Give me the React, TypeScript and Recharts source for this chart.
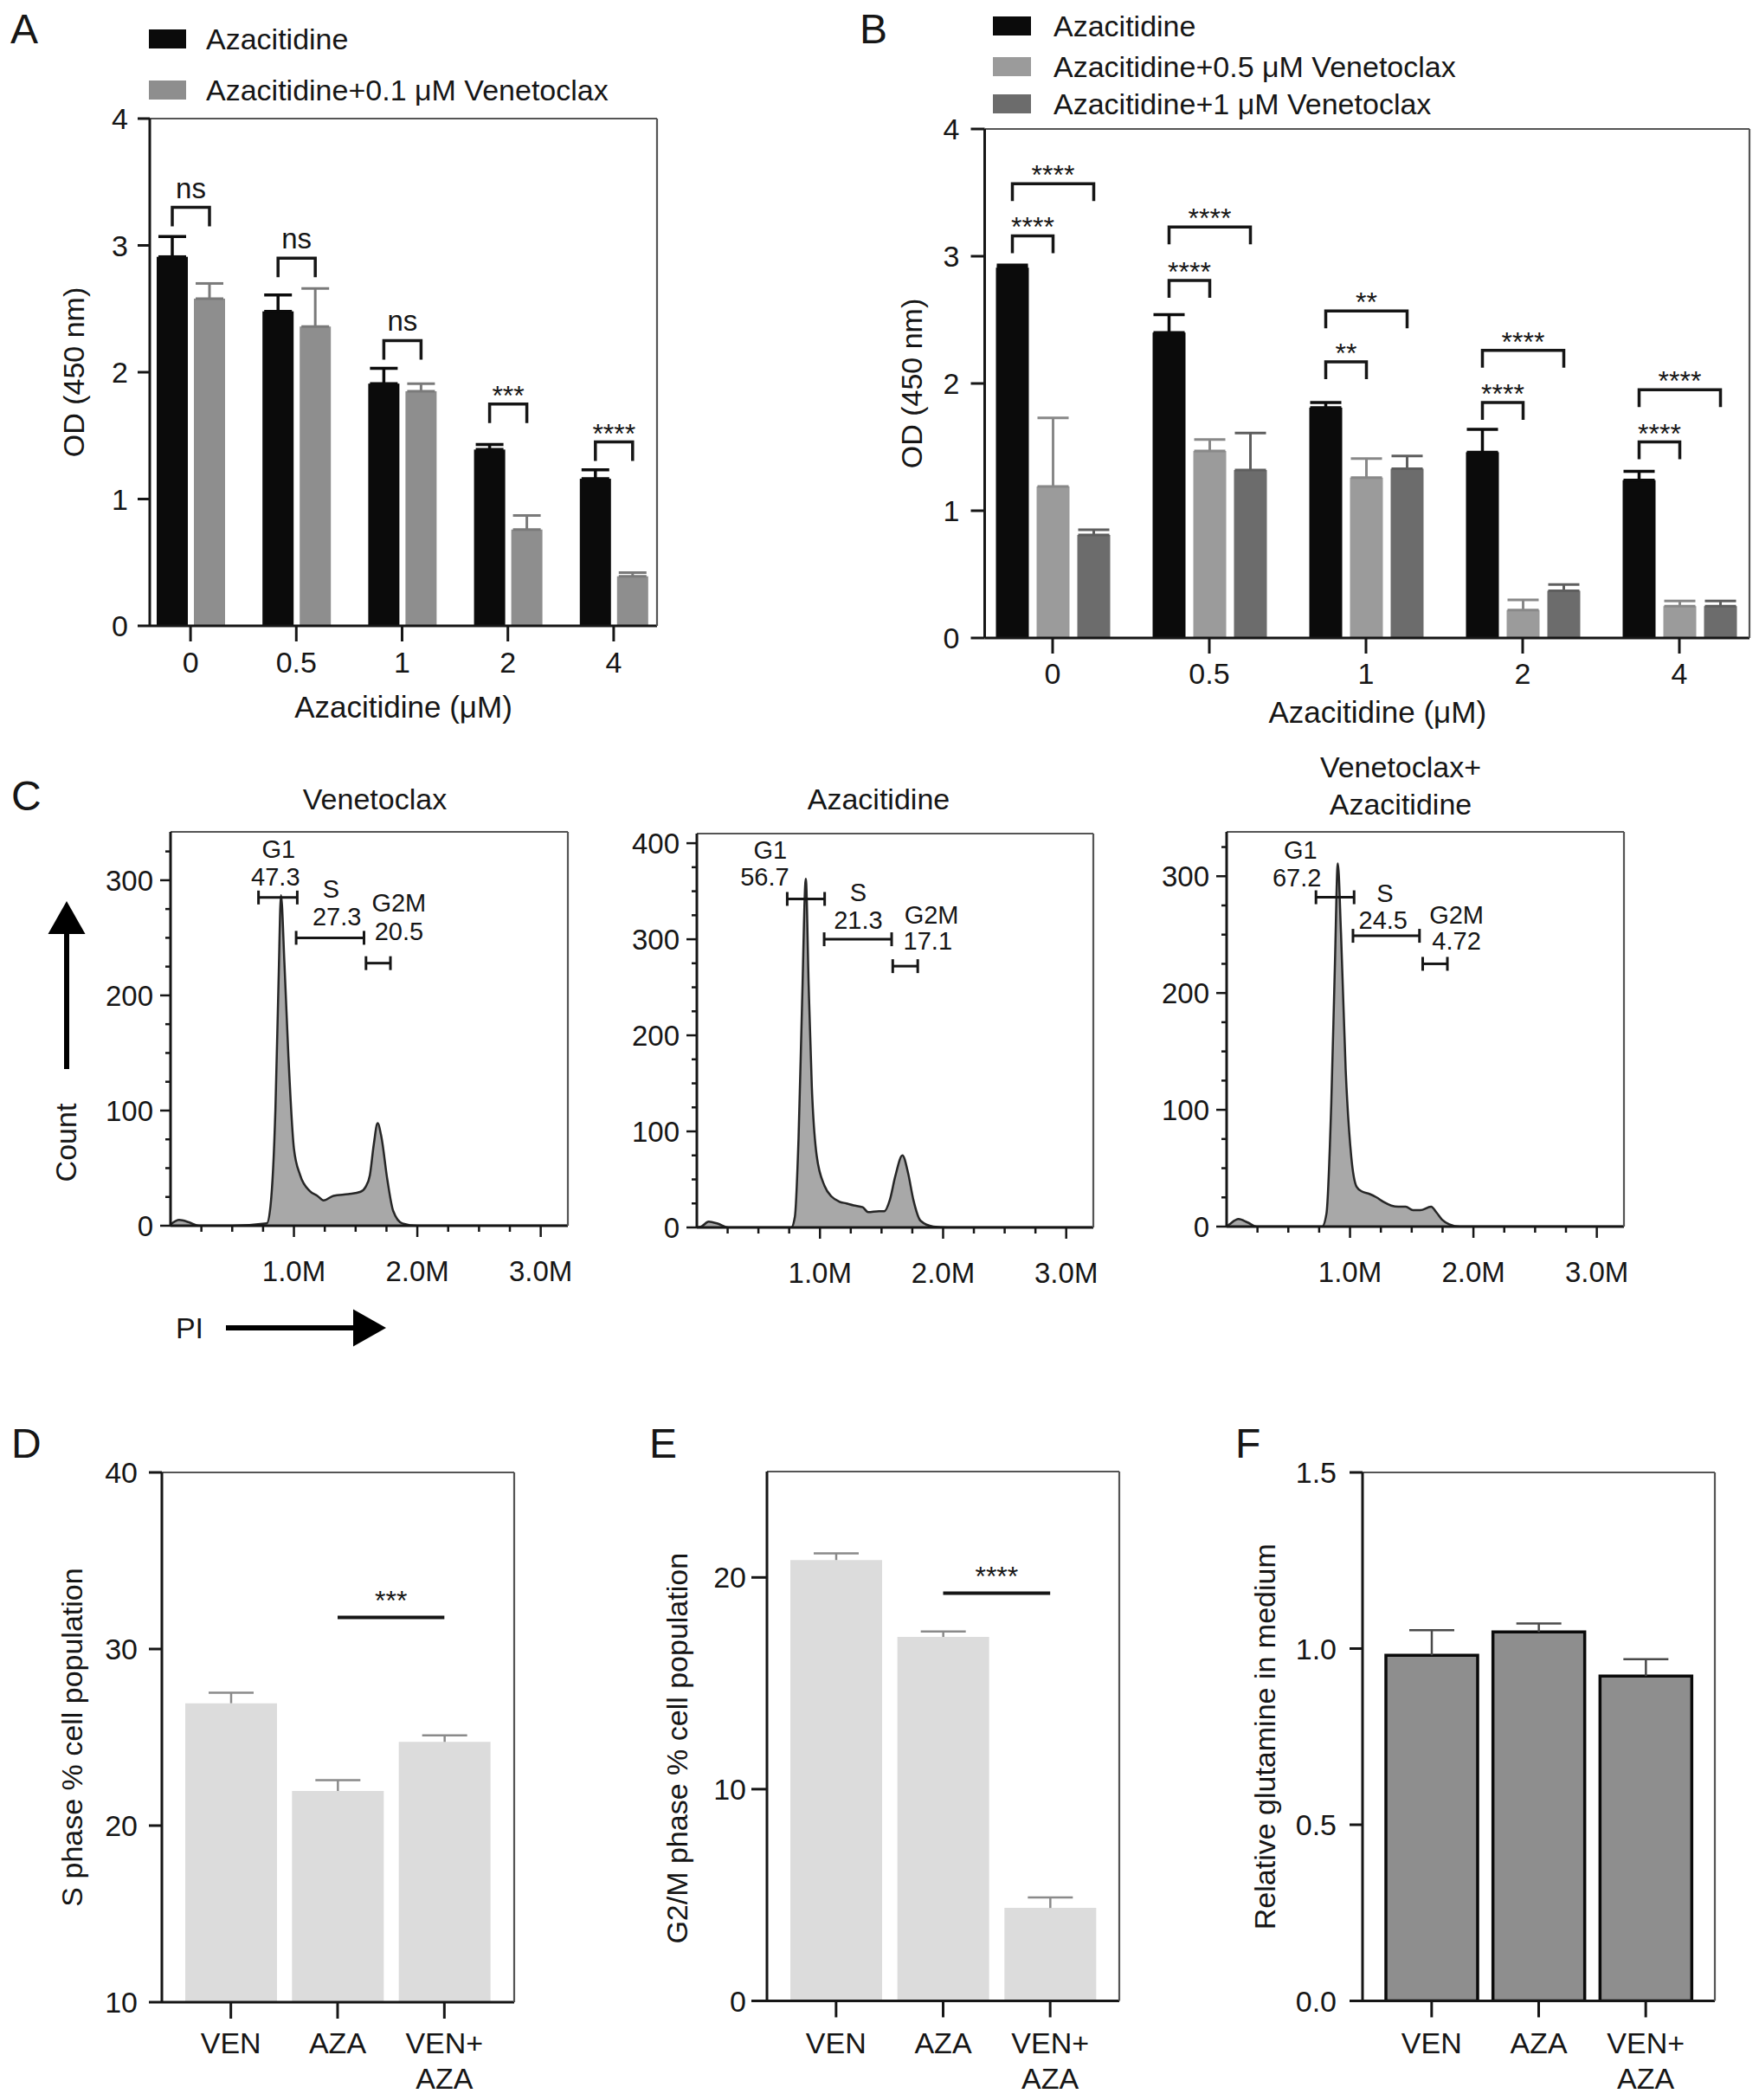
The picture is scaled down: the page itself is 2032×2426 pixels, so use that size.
import React from "react";
import { Area, AreaChart, Bar, BarChart, ErrorBar, ReferenceDot, ReferenceLine, XAxis, YAxis } from "recharts";

const FONT = '"Liberation Sans", Arial, Helvetica, sans-serif';
const INK = "#161616";
const FRAME = "#555555";

// ---- A: CCK-8 with 0.1 uM venetoclax
const doses = ["0", "0.5", "1", "2", "4"];
const aAza = [2.91, 2.48, 1.91, 1.39, 1.16];
const aAzaErr = [0.16, 0.13, 0.12, 0.04, 0.07];
const aVen01 = [2.58, 2.36, 1.85, 0.76, 0.39];
const aVen01Err = [0.12, 0.3, 0.06, 0.11, 0.03];
const aSigY = [3.3, 2.9, 2.25, 1.75, 1.45];
const aSigLabel = ["ns", "ns", "ns", "***", "****"];

// ---- B: 0.5 and 1 uM venetoclax
const bAza = [2.91, 2.4, 1.81, 1.46, 1.24];
const bAzaErr = [0.02, 0.14, 0.04, 0.18, 0.07];
const bVen05 = [1.19, 1.47, 1.26, 0.22, 0.25];
const bVen05Err = [0.54, 0.09, 0.15, 0.08, 0.04];
const bVen1 = [0.81, 1.32, 1.33, 0.37, 0.25];
const bVen1Err = [0.04, 0.29, 0.1, 0.05, 0.04];
const bSigNearY = [3.16, 2.81, 2.17, 1.85, 1.54];
const bSigFarY = [3.57, 3.23, 2.57, 2.26, 1.95];
const bSigLabel = ["****", "****", "**", "****", "****"];

const seriesA = ["Azacitidine", "Azacitidine+0.1 μM Venetoclax"];
const seriesB = ["Azacitidine", "Azacitidine+0.5 μM Venetoclax", "Azacitidine+1 μM Venetoclax"];
const colorsA = ["#0b0b0b", "#8e8e8e"];
const colorsB = ["#0b0b0b", "#9b9b9b", "#6c6c6c"];

// ---- C: PI histograms (x in millions)
const piTicks = [0.25, 0.5, 0.75, 1, 1.25, 1.5, 1.75, 2, 2.25, 2.5, 2.75, 3];
const c1Pi = [0, 0.07, 0.15, 0.23, 0.5, 0.78, 0.81, 0.85, 0.876, 0.895, 0.923, 0.955, 1.0, 1.05, 1.13, 1.19, 1.24, 1.32, 1.44, 1.54, 1.58, 1.615, 1.647, 1.678, 1.709, 1.757, 1.804, 1.88, 2.0, 3.22];
const c1Count = [1, 5, 3, 0, 0, 2, 17, 101, 215, 287, 228, 148, 67, 44, 30, 26, 22, 26, 27.5, 29.5, 33.6, 43.6, 70.5, 89, 77, 40, 13, 2, 0, 0];
const c2Pi = [0, 0.037, 0.096, 0.169, 0.257, 0.767, 0.796, 0.826, 0.855, 0.885, 0.908, 0.934, 0.973, 1.038, 1.096, 1.155, 1.214, 1.273, 1.347, 1.391, 1.479, 1.523, 1.567, 1.611, 1.67, 1.715, 1.759, 1.817, 1.92, 2.04, 3.22];
const c2Count = [0, 1, 6, 4, 0, 0, 11, 93, 235, 363, 253, 146, 75, 43, 32, 27, 25, 23, 21, 16, 17, 17, 28.5, 53, 75, 57, 28.5, 7, 1, 0, 0];
const c3Pi = [0, 0.024, 0.097, 0.171, 0.244, 0.774, 0.809, 0.848, 0.877, 0.901, 0.927, 0.965, 1.01, 1.054, 1.098, 1.157, 1.215, 1.274, 1.334, 1.392, 1.451, 1.51, 1.569, 1.657, 1.701, 1.745, 1.804, 1.892, 3.22];
const c3Count = [0, 2, 6.4, 3.5, 0, 0, 11, 105, 222, 311, 251, 134, 60, 34, 30, 28, 25, 21, 18, 17, 17, 14, 14, 17, 12, 6, 2, 0, 0];

type Gate = { name: string; pct: string; x1: number; x2: number; y: number; nameX: number; nameY: number; pctX: number; pctY: number };
const c1Gates: Gate[] = [
  { name: "G1", pct: "47.3", x1: 0.713, x2: 1.027, y: 285, nameX: 0.876, nameY: 327, pctX: 0.851, pctY: 303 },
  { name: "S", pct: "27.3", x1: 1.018, x2: 1.568, y: 250, nameX: 1.301, nameY: 293, pctX: 1.348, pctY: 269 },
  { name: "G2M", pct: "20.5", x1: 1.584, x2: 1.782, y: 228, nameX: 1.851, nameY: 281, pctX: 1.851, pctY: 256 },
];
const c2Gates: Gate[] = [
  { name: "G1", pct: "56.7", x1: 0.734, x2: 1.038, y: 342, nameX: 0.596, nameY: 393, pctX: 0.551, pctY: 365 },
  { name: "S", pct: "21.3", x1: 1.034, x2: 1.582, y: 300, nameX: 1.311, nameY: 349, pctX: 1.311, pctY: 320 },
  { name: "G2M", pct: "17.1", x1: 1.591, x2: 1.794, y: 272, nameX: 1.906, nameY: 326, pctX: 1.876, pctY: 299 },
];
const c3Gates: Gate[] = [
  { name: "G1", pct: "67.2", x1: 0.724, x2: 1.033, y: 282, nameX: 0.598, nameY: 323, pctX: 0.569, pctY: 299 },
  { name: "S", pct: "24.5", x1: 1.024, x2: 1.563, y: 249, nameX: 1.283, nameY: 286, pctX: 1.268, pctY: 263 },
  { name: "G2M", pct: "4.72", x1: 1.589, x2: 1.789, y: 225, nameX: 1.863, nameY: 267, pctX: 1.863, pctY: 245 },
];
const c1YTicks = [0, 25, 50, 75, 100, 125, 150, 175, 200, 225, 250, 275, 300, 325];
const c2YTicks = [0, 25, 50, 75, 100, 125, 150, 175, 200, 225, 250, 275, 300, 325, 350, 375, 400];

// ---- D/E/F
const groups = ["VEN", "AZA", "VEN+\nAZA"];
const sPhase = [26.93, 21.96, 24.74];
const sPhaseErr = [0.6, 0.61, 0.37];
const g2mPhase = [20.82, 17.19, 4.39];
const g2mPhaseErr = [0.32, 0.26, 0.5];
const glutamine = [0.981, 1.047, 0.922];
const glutamineErr = [0.071, 0.024, 0.048];

const axisLine = { stroke: INK, strokeWidth: 3 };
const frameLine = { stroke: FRAME, strokeWidth: 2.2 };
const tickText = { fontSize: 34, fill: INK };

function bracketBar(valueKey: string, brackets: { ys: number[]; labels: string[]; span: number }[], step: number, leg: number) {
  return function BracketBar(props: any) {
    const { x, y, width, height, fill, payload } = props;
    const i = doses.indexOf(payload.dose);
    const base = y + height;
    const perUnit = height / payload[valueKey];
    const xl = x + width / 2;
    return (
      <g>
        <rect x={x} y={y} width={width} height={height} fill={fill} />
        {brackets.map((b, k) => {
          const yy = base - b.ys[i] * perUnit;
          const xr = xl + b.span * step;
          const star = b.labels[i].startsWith("*");
          return (
            <g key={k}>
              <path d={`M${xl},${yy + leg}V${yy}H${xr}V${yy + leg}`} fill="none" stroke={INK} strokeWidth={3.5} />
              <text x={(xl + xr) / 2} y={star ? yy + 1 : yy - 11} textAnchor="middle" fontSize={star ? 32 : 33} fill={INK}>
                {b.labels[i]}
              </text>
            </g>
          );
        })}
      </g>
    );
  };
}

function PanelA() {
  const rows = doses.map((dose, i) => ({ dose, aza: aAza[i], azaErr: [0, aAzaErr[i]], ven: aVen01[i], venErr: [0, aVen01Err[i]] }));
  const shape = bracketBar("aza", [{ ys: aSigY, labels: aSigLabel, span: 1 }], 43, 22);
  return (
    <BarChart width={780} height={860} data={rows} margin={{ top: 136, right: 20, bottom: 27, left: 73 }} barSize={36} barGap={7} accessibilityLayer={false}>
      <XAxis dataKey="dose" interval={0} padding={{ left: -14, right: -11 }} height={110} tickSize={18} tickMargin={12} axisLine={axisLine} tickLine={axisLine} tick={tickText}
        label={{ value: "Azacitidine (μM)", position: "insideBottom", offset: 4, fontSize: 35, fill: INK }} />
      <XAxis xAxisId="top" orientation="top" dataKey="dose" height={1} tick={false} tickLine={false} axisLine={frameLine} />
      <YAxis domain={[0, 4]} ticks={[0, 1, 2, 3, 4]} width={100} tickSize={14} tickMargin={11} axisLine={axisLine} tickLine={axisLine} tick={tickText}
        label={{ value: "OD (450 nm)", angle: -90, position: "insideLeft", offset: 12, fontSize: 34, fill: INK, style: { textAnchor: "middle" } }} />
      <YAxis yAxisId="right" orientation="right" domain={[0, 4]} width={1} tick={false} tickLine={false} axisLine={frameLine} />
      <Bar dataKey="aza" fill={colorsA[0]} shape={shape} isAnimationActive={false}>
        <ErrorBar dataKey="azaErr" width={16} strokeWidth={3.5} stroke={colorsA[0]} direction="y" />
      </Bar>
      <Bar dataKey="ven" fill={colorsA[1]} isAnimationActive={false}>
        <ErrorBar dataKey="venErr" width={16} strokeWidth={3} stroke="#7a7a7a" direction="y" />
      </Bar>
    </BarChart>
  );
}

function PanelB() {
  const rows = doses.map((dose, i) => ({
    dose,
    aza: bAza[i], azaErr: [0, bAzaErr[i]],
    v05: bVen05[i], v05Err: [0, bVen05Err[i]],
    v1: bVen1[i], v1Err: [0, bVen1Err[i]],
  }));
  const shape = bracketBar("aza", [
    { ys: bSigNearY, labels: bSigLabel, span: 1 },
    { ys: bSigFarY, labels: bSigLabel, span: 2 },
  ], 47, 20);
  return (
    <BarChart width={1042} height={860} data={rows} margin={{ top: 148, right: 10, bottom: 13, left: 47.5 }} barSize={38} barGap={9} accessibilityLayer={false}>
      <XAxis dataKey="dose" interval={0} padding={{ left: -12, right: -9.5 }} height={110} tickSize={18} tickMargin={11} axisLine={axisLine} tickLine={axisLine} tick={tickText}
        label={{ value: "Azacitidine (μM)", position: "insideBottom", offset: 12, fontSize: 35, fill: INK, dx: 12 }} />
      <XAxis xAxisId="top" orientation="top" dataKey="dose" height={1} tick={false} tickLine={false} axisLine={frameLine} />
      <YAxis domain={[0, 4]} ticks={[0, 1, 2, 3, 4]} width={100} tickSize={16} tickMargin={13} axisLine={axisLine} tickLine={axisLine} tick={tickText}
        label={{ value: "OD (450 nm)", angle: -90, position: "insideLeft", offset: 15.5, fontSize: 34, fill: INK, style: { textAnchor: "middle" } }} />
      <YAxis yAxisId="right" orientation="right" domain={[0, 4]} width={1} tick={false} tickLine={false} axisLine={frameLine} />
      <Bar dataKey="aza" fill={colorsB[0]} shape={shape} isAnimationActive={false}>
        <ErrorBar dataKey="azaErr" width={18} strokeWidth={3.5} stroke={colorsB[0]} direction="y" />
      </Bar>
      <Bar dataKey="v05" fill={colorsB[1]} isAnimationActive={false}>
        <ErrorBar dataKey="v05Err" width={18} strokeWidth={3} stroke="#888888" direction="y" />
      </Bar>
      <Bar dataKey="v1" fill={colorsB[2]} isAnimationActive={false}>
        <ErrorBar dataKey="v1Err" width={18} strokeWidth={3} stroke="#5e5e5e" direction="y" />
      </Bar>
    </BarChart>
  );
}

function FlowXTick(props: any) {
  const { x, y, payload } = props;
  const v = payload.value;
  const major = Math.abs(v - Math.round(v)) < 1e-6;
  return (
    <g>
      <line x1={x} x2={x} y1={y} y2={y + (major ? 13 : 7)} stroke={INK} strokeWidth={2.5} />
      {major && (
        <text x={x} y={y + 52} dy="0.36em" textAnchor="middle" fontSize={33} fill={INK}>
          {v.toFixed(1)}M
        </text>
      )}
    </g>
  );
}

function FlowYTick(props: any) {
  const { x, y, payload } = props;
  const major = payload.value % 100 === 0;
  return (
    <g>
      <line x1={x - (major ? 12 : 6)} x2={x} y1={y} y2={y} stroke={INK} strokeWidth={2.5} />
      {major && (
        <text x={x - 20} y={y} dy="0.36em" textAnchor="end" fontSize={33} fill={INK}>
          {payload.value}
        </text>
      )}
    </g>
  );
}

function GateShape(props: any) {
  const { x1, y1, x2, y2 } = props;
  return (
    <g stroke={INK} strokeWidth={3} fill="none">
      <line x1={x1} y1={y1} x2={x2} y2={y2} />
      <line x1={x1} y1={y1 - 8} x2={x1} y2={y1 + 8} />
      <line x1={x2} y1={y2 - 8} x2={x2} y2={y2 + 8} />
    </g>
  );
}

function gateText(text: string) {
  return function GateText(props: any) {
    return (
      <text x={props.cx} y={props.cy} dy="0.36em" textAnchor="middle" fontSize={29} fill={INK}>
        {text}
      </text>
    );
  };
}

function Histogram({ pi, count, yMax, yTicks, gates, width, margin }: { pi: number[]; count: number[]; yMax: number; yTicks: number[]; gates: Gate[]; width: number; margin: any }) {
  const rows = pi.map((p, i) => ({ pi: p, count: count[i] }));
  return (
    <AreaChart width={width} height={620} data={rows} margin={margin} accessibilityLayer={false}>
      <XAxis dataKey="pi" type="number" domain={[0, 3.22]} ticks={piTicks} interval={0} allowDataOverflow height={80} tickSize={0} tickMargin={0} tickLine={false} axisLine={axisLine} tick={(p: any) => <FlowXTick {...p} />} />
      <XAxis xAxisId="top" orientation="top" dataKey="pi" type="number" domain={[0, 3.22]} allowDataOverflow height={1} tick={false} tickLine={false} axisLine={frameLine} />
      <YAxis domain={[0, yMax]} ticks={yTicks} interval={0} allowDataOverflow width={80} tickSize={0} tickMargin={0} tickLine={false} axisLine={axisLine} tick={(p: any) => <FlowYTick {...p} />} />
      <YAxis yAxisId="right" orientation="right" domain={[0, yMax]} allowDataOverflow width={1} tick={false} tickLine={false} axisLine={frameLine} />
      <Area type="monotone" dataKey="count" stroke="#262626" strokeWidth={2.5} fill="#a8a8a8" fillOpacity={1} dot={false} activeDot={false} isAnimationActive={false} />
      {gates.map((g) => (
        <ReferenceLine key={`l${g.name}`} segment={[{ x: g.x1, y: g.y }, { x: g.x2, y: g.y }]} shape={GateShape} />
      ))}
      {gates.map((g) => (
        <ReferenceDot key={`n${g.name}`} x={g.nameX} y={g.nameY} r={0} shape={gateText(g.name)} />
      ))}
      {gates.map((g) => (
        <ReferenceDot key={`p${g.name}`} x={g.pctX} y={g.pctY} r={0} shape={gateText(g.pct)} />
      ))}
    </AreaChart>
  );
}

function CatTick(props: any) {
  const { x, y, payload } = props;
  const lines = String(payload.value).split("\n");
  return (
    <text x={x} y={y} textAnchor="middle" fontSize={34} fill={INK}>
      {lines.map((l, i) => (
        <tspan key={i} x={x} dy={i === 0 ? "0.71em" : "1.2em"}>
          {l}
        </tspan>
      ))}
    </text>
  );
}

function errorT(color: string, half: number) {
  return function ErrT(props: any) {
    const { x, y, width, height } = props;
    if (!height) return <g />;
    const cx = x + width / 2;
    return (
      <g stroke={color} strokeWidth={2.5}>
        <line x1={cx} x2={cx} y1={y} y2={y + height} />
        <line x1={cx - half} x2={cx + half} y1={y} y2={y} />
      </g>
    );
  };
}

function Summary({ values, errs, domain, ticks, fmt, title, titleOffset, titleDy, width, margin, padding, xTickMargin, yTickSize, yTickMargin, fill, stroke, errColor, sig }: any) {
  const rows = groups.map((group, i) => ({ group, value: values[i], err: errs[i] }));
  return (
    <BarChart width={width} height={806} data={rows} margin={margin} barSize={106} accessibilityLayer={false}>
      <XAxis dataKey="group" interval={0} padding={padding} height={110} tickSize={19} tickMargin={xTickMargin} axisLine={axisLine} tickLine={axisLine} tick={(p: any) => <CatTick {...p} />} />
      <XAxis xAxisId="top" orientation="top" dataKey="group" height={1} tick={false} tickLine={false} axisLine={frameLine} />
      <YAxis domain={domain} ticks={ticks} allowDataOverflow width={120} tickSize={yTickSize} tickMargin={yTickMargin} tickFormatter={fmt} axisLine={axisLine} tickLine={axisLine} tick={tickText}
        label={{ value: title, angle: -90, position: "insideLeft", offset: titleOffset, dy: titleDy || 0, fontSize: 34, fill: INK, style: { textAnchor: "middle" } }} />
      <YAxis yAxisId="right" orientation="right" domain={domain} allowDataOverflow width={1} tick={false} tickLine={false} axisLine={frameLine} />
      <Bar dataKey="value" stackId="s" fill={fill} stroke={stroke} strokeWidth={stroke ? 3.5 : 0} isAnimationActive={false} />
      <Bar dataKey="err" stackId="s" fill="none" shape={errorT(errColor, 26)} isAnimationActive={false} />
      {sig && (
        <ReferenceLine segment={[{ x: groups[1], y: sig.y }, { x: groups[2], y: sig.y }]} stroke={INK} strokeWidth={4}
          label={{ value: sig.label, position: "top", offset: 8, fontSize: 32, fill: INK }} />
      )}
    </BarChart>
  );
}

function Overlay() {
  const letters = [
    { t: "A", x: 12, y: 50 },
    { t: "B", x: 993, y: 50 },
    { t: "C", x: 13, y: 936 },
    { t: "D", x: 13, y: 1684 },
    { t: "E", x: 750, y: 1684 },
    { t: "F", x: 1427, y: 1684 },
  ];
  const legendA = [45, 104];
  const legendB = [30, 77, 120];
  return (
    <svg width={2032} height={2426} style={{ position: "absolute", left: 0, top: 0 }}>
      {letters.map((l) => (
        <text key={l.t} x={l.x} y={l.y} fontSize={48} fill={INK}>{l.t}</text>
      ))}
      {seriesA.map((s, i) => (
        <g key={s}>
          <rect x={172} y={legendA[i] - 11} width={43} height={22} fill={colorsA[i]} />
          <text x={238} y={legendA[i] + 12} fontSize={34} fill={INK}>{s}</text>
        </g>
      ))}
      {seriesB.map((s, i) => (
        <g key={s}>
          <rect x={1147} y={legendB[i] - 11} width={44} height={22} fill={colorsB[i]} />
          <text x={1217} y={legendB[i] + 12} fontSize={34} fill={INK}>{s}</text>
        </g>
      ))}
      <text x={433} y={935} textAnchor="middle" fontSize={34} fill={INK}>Venetoclax</text>
      <text x={1015} y={935} textAnchor="middle" fontSize={34} fill={INK}>Azacitidine</text>
      <text x={1618} y={898} textAnchor="middle" fontSize={34} fill={INK}>Venetoclax+</text>
      <text x={1618} y={941} textAnchor="middle" fontSize={34} fill={INK}>Azacitidine</text>
      <rect x={74} y={1076} width={6} height={159} fill="#000" />
      <polygon points="77,1041 55.5,1079 98.5,1079" fill="#000" />
      <text x={88} y={1320} transform="rotate(-90 88 1320)" textAnchor="middle" fontSize={34} fill={INK}>Count</text>
      <text x={219} y={1546} textAnchor="middle" fontSize={34} fill={INK}>PI</text>
      <rect x={261} y={1531} width={150} height={6} fill="#000" />
      <polygon points="446,1534 408,1512.5 408,1555.5" fill="#000" />
    </svg>
  );
}

function Box({ left, top, children }: { left: number; top: number; children: React.ReactNode }) {
  return <div style={{ position: "absolute", left, top }}>{children}</div>;
}

export default function App() {
  return (
    <div style={{ position: "absolute", left: 0, top: 0, width: 2032, height: 2426, background: "#fff", fontFamily: FONT, overflow: "hidden" }}>
      <Overlay />
      <Box left={0} top={0}><PanelA /></Box>
      <Box left={990} top={0}><PanelB /></Box>
      <Box left={0} top={880}>
        <Histogram pi={c1Pi} count={c1Count} yMax={342} yTicks={c1YTicks} gates={c1Gates} width={680} margin={{ top: 80, right: 23, bottom: 4, left: 117 }} />
      </Box>
      <Box left={680} top={880}>
        <Histogram pi={c2Pi} count={c2Count} yMax={410} yTicks={c2YTicks} gates={c2Gates} width={640} margin={{ top: 82, right: 56, bottom: 2, left: 45 }} />
      </Box>
      <Box left={1320} top={880}>
        <Histogram pi={c3Pi} count={c3Count} yMax={338} yTicks={c1YTicks} gates={c3Gates} width={620} margin={{ top: 80, right: 63, bottom: 3, left: 17 }} />
      </Box>
      <Box left={0} top={1620}>
        <Summary values={sPhase} errs={sPhaseErr} domain={[10, 40]} ticks={[10, 20, 30, 40]} title="S phase % cell population" titleOffset={16}
          width={700} margin={{ top: 80, right: 105, bottom: 3, left: 67 }} padding={{ left: 18, right: 19 }} xTickMargin={16} yTickSize={15} yTickMargin={13}
          fill="#dcdcdc" errColor="#8a8a8a" sig={{ y: 31.79, label: "***" }} />
      </Box>
      <Box left={700} top={1620}>
        <Summary values={g2mPhase} errs={g2mPhaseErr} domain={[0, 25]} ticks={[0, 10, 20]} title="G2/M phase % cell population" titleOffset={16} titleDy={14}
          width={660} margin={{ top: 79, right: 66, bottom: 4.5, left: 66 }} padding={{ left: 18, right: 18 }} xTickMargin={17.5} yTickSize={18} yTickMargin={6}
          fill="#dcdcdc" errColor="#8a8a8a" sig={{ y: 19.26, label: "****" }} />
      </Box>
      <Box left={1380} top={1620}>
        <Summary values={glutamine} errs={glutamineErr} domain={[0, 1.5]} ticks={[0, 0.5, 1, 1.5]} fmt={(v: number) => v.toFixed(1)} title="Relative glutamine in medium" titleOffset={7}
          width={652} margin={{ top: 80, right: 50, bottom: 4.5, left: 74 }} padding={{ left: 18, right: 18 }} xTickMargin={17.5} yTickSize={15} yTickMargin={15}
          fill="#8e8e8e" stroke="#0a0a0a" errColor="#4a4a4a" />
      </Box>
    </div>
  );
}
